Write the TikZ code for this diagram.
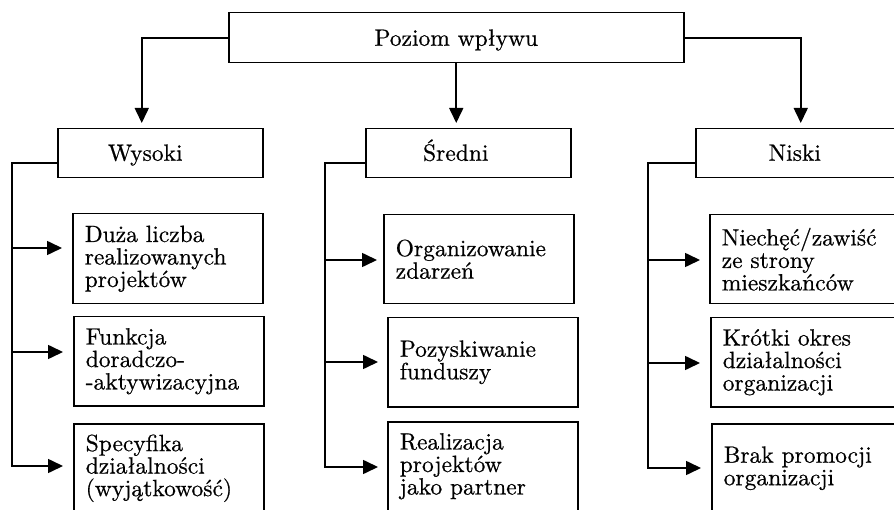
\documentclass[tikz,border=0pt]{standalone}
\usepackage{fontspec}
\setmainfont{lmroman10-regular.otf}[FakeBold=0.6]
\usetikzlibrary{arrows.meta}
\tikzset{
 ln/.style={line width=1.6pt},
 arr/.style={ln, -{Triangle[length=15pt,width=14pt]}},
 box/.style={draw, line width=1.5pt, anchor=north west, inner sep=0pt},
 leaf/.style={draw, line width=1.5pt, anchor=north west, minimum height=89pt, text width=166pt, inner xsep=12pt, inner ysep=0pt, align=left, font=\fontsize{23.5}{22.5}\selectfont},
 lbl/.style={font=\fontsize{23.5}{22.5}\selectfont, inner sep=0pt, anchor=base},
}
\begin{document}
\begin{tikzpicture}[x=1pt,y=-1pt]
\useasboundingbox (0,0) rectangle (894,510);
\clip (0,0) rectangle (894,510);
% top
\node[box, minimum width=455pt, minimum height=50pt] (top) at (228,12) {};
\node[lbl] (toptxt) at ([yshift=-8pt]top.center) {Poziom wpływu};
% level 2
\node[box, minimum width=205pt, minimum height=49pt] (w) at (57,128) {};
\node[box, minimum width=205pt, minimum height=49pt] (s) at (365,128) {};
\node[box, minimum width=205pt, minimum height=49pt] (n) at (695,128) {};
\node[lbl] (wt) at ([xshift=-15pt,yshift=-7.5pt]w.center) {Wysoki};
\node[lbl] (st) at ([xshift=-12.5pt,yshift=-7.5pt]s.center) {Średni};
\node[lbl] (nt) at ([xshift=-3.5pt,yshift=-7.5pt]n.center) {Niski};
% leaves left
\node[leaf, minimum height=90pt] (b11) at (72,213) {Duża liczba\\realizowanych\\projektów};
\node[leaf] (b12) at (73,316) {Funkcja\\doradczo-\\-aktywizacyjna};
\node[leaf] (b13) at (73,423) {Specyfika\\działalności\\(wyjątkowość)};
% leaves middle
\node[leaf] (b21) at (383,214) {Organizowanie\\zdarzeń};
\node[leaf] (b22) at (387,317) {Pozyskiwanie\\funduszy};
\node[leaf] (b23) at (387,421) {Realizacja\\projektów\\jako partner};
% leaves right
\node[leaf] (b31) at (709,214) {Niechęć/zawiść\\ze strony\\mieszkańców};
\node[leaf] (b32) at (710,317) {Krótki okres\\działalności\\organizacji};
\node[leaf] (b33) at (711,423) {Brak promocji\\organizacji};
% top arrows
\draw[arr, shorten >=5pt] (top.west) -| ([xshift=-18.5pt]w.north);
\draw[arr, shorten >=5pt] (top.south) -- (top.south |- s.north);
\draw[arr, shorten >=5pt] (top.east) -| ([xshift=2.5pt]n.north);
% trunk coordinates
\coordinate (l1) at (12,248);
\coordinate (l2) at (12,352);
\coordinate (l3) at (12,466);
\coordinate (m1) at (325,260);
\coordinate (m2) at (325,362);
\coordinate (m3) at (325,467);
\coordinate (r1) at (648,260);
\coordinate (r2) at (648,363);
\coordinate (r3) at (648,468);
% left
\draw[arr, shorten >=10pt] ([yshift=-9.5pt]w.west) -| (l3) -- (l3 -| b13.west);
\draw[arr, shorten >=10pt] (l1) -- (l1 -| b11.west);
\draw[arr, shorten >=10pt] (l2) -- (l2 -| b12.west);
% middle
\draw[arr, shorten >=9pt] ([yshift=-9.5pt]s.west) -| (m3) -- (m3 -| b23.west);
\draw[arr, shorten >=6pt] (m1) -- (m1 -| b21.west);
\draw[arr, shorten >=9pt] (m2) -- (m2 -| b22.west);
% right
\draw[arr, shorten >=10pt] ([yshift=-9.5pt]n.west) -| (r3) -- (r3 -| b33.west);
\draw[arr, shorten >=9pt] (r1) -- (r1 -| b31.west);
\draw[arr, shorten >=10pt] (r2) -- (r2 -| b32.west);
\end{tikzpicture}
\end{document}
